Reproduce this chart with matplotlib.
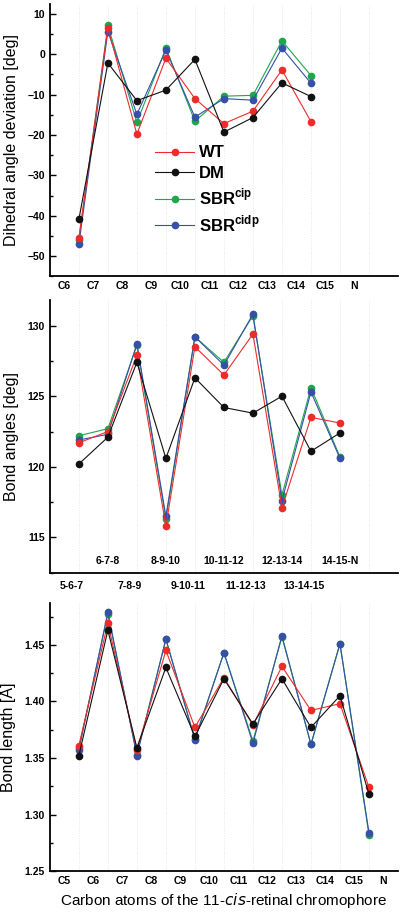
import matplotlib
matplotlib.use('Agg')
import matplotlib.pyplot as plt
from matplotlib.ticker import MultipleLocator
from matplotlib.transforms import blended_transform_factory

plt.rcParams['font.family'] = ['Liberation Sans', 'DejaVu Sans']
plt.rcParams['mathtext.fontset'] = 'custom'
plt.rcParams['mathtext.rm'] = 'Liberation Sans:bold'
plt.rcParams['mathtext.bf'] = 'Liberation Sans:bold'

series = ['WT', 'DM', 'SBR$^{\\mathrm{cip}}$', 'SBR$^{\\mathrm{cidp}}$']
colors = ['#ee2b2b', '#111111', '#1fa54c', '#3650a8']

# dihedral angle deviation
dih_labels = ['C6', 'C7', 'C8', 'C9', 'C10', 'C11', 'C12', 'C13', 'C14', 'C15', 'N']
dih_wt = [-45.5, 6.5, -19.8, -1.0, -11.0, -17.2, -14.1, -3.9, -16.7]
dih_dm = [-40.9, -2.2, -11.5, -8.9, -1.3, -19.3, -15.7, -7.1, -10.5]
dih_cip = [-45.9, 7.1, -16.9, 1.5, -16.6, -10.4, -10.2, 3.3, -5.3]
dih_cidp = [-47.1, 5.6, -14.9, 1.0, -15.6, -11.0, -11.4, 1.5, -7.2]

# bond angles
ang_labels = ['5-6-7', '6-7-8', '7-8-9', '8-9-10', '9-10-11', '10-11-12',
              '11-12-13', '12-13-14', '13-14-15', '14-15-N']
ang_wt = [121.7, 122.5, 127.9, 115.8, 128.5, 126.5, 129.4, 117.1, 123.5, 123.1]
ang_dm = [120.2, 122.1, 127.4, 120.6, 126.3, 124.2, 123.8, 125.0, 121.1, 122.4]
ang_cip = [122.2, 122.7, 128.6, 116.3, 129.2, 127.4, 130.7, 118.0, 125.6, 120.7]
ang_cidp = [121.9, 122.3, 128.7, 116.5, 129.2, 127.2, 130.8, 117.6, 125.3, 120.6]

# bond length
len_labels = ['C5', 'C6', 'C7', 'C8', 'C9', 'C10', 'C11', 'C12', 'C13', 'C14', 'C15', 'N']
len_wt = [1.361, 1.469, 1.357, 1.445, 1.377, 1.421, 1.379, 1.431, 1.392, 1.398, 1.324]
len_dm = [1.352, 1.463, 1.359, 1.430, 1.369, 1.420, 1.380, 1.420, 1.377, 1.405, 1.318]
len_cip = [1.359, 1.477, 1.353, 1.455, 1.367, 1.443, 1.365, 1.457, 1.362, 1.451, 1.282]
len_cidp = [1.357, 1.479, 1.352, 1.455, 1.366, 1.443, 1.363, 1.458, 1.362, 1.451, 1.284]

fig = plt.figure(figsize=(4.02, 9.15), dpi=100)
ax1 = fig.add_axes([0.124, 0.698, 0.866, 0.298])
ax2 = fig.add_axes([0.124, 0.374, 0.866, 0.298])
ax3 = fig.add_axes([0.124, 0.048, 0.866, 0.293])

order = [2, 3, 0, 1]


def draw(ax, data):
    n = len(data[0])
    xs = [i + 0.5 for i in range(n)]
    lines = {}
    for k in order:
        lines[k], = ax.plot(xs, data[k], '-o', color=colors[k], lw=0.8,
                            ms=4.5, label=series[k], zorder=3)
    return [lines[k] for k in range(4)]


def style(ax):
    for s in ['top', 'right']:
        ax.spines[s].set_visible(False)
    for s in ['left', 'bottom']:
        ax.spines[s].set_linewidth(1.3)
    ax.set_xlim(-0.5, 11.5)
    ax.tick_params(axis='y', which='major', direction='in', length=4,
                   width=1, labelsize=7.5)
    ax.tick_params(axis='y', which='minor', direction='in', length=2.5, width=1)
    ax.tick_params(axis='x', length=0, labelsize=7.5)
    for lab in ax.get_yticklabels() + ax.get_xticklabels():
        lab.set_fontweight('bold')
    for g in range(11):
        ax.axvline(g + 0.5, color='#dddddd', lw=0.6, ls=(0, (1, 2)), zorder=0)


handles = draw(ax1, [dih_wt, dih_dm, dih_cip, dih_cidp])
ax1.set_ylim(-55, 12.5)
ax1.yaxis.set_major_locator(MultipleLocator(10))
ax1.yaxis.set_minor_locator(MultipleLocator(5))
ax1.set_xticks(range(len(dih_labels)))
ax1.set_xticklabels(dih_labels)
style(ax1)
ax1.set_ylabel('Dihedral angle deviation [deg]', fontsize=11.5, labelpad=6)
leg = ax1.legend(handles=handles, loc='upper left', bbox_to_anchor=(0.26, 0.535),
                 frameon=False, prop={'weight': 'bold', 'size': 12},
                 handlelength=2.3, handletextpad=0.3, labelspacing=0.35)

draw(ax2, [ang_wt, ang_dm, ang_cip, ang_cidp])
ax2.set_ylim(112.5, 131.8)
ax2.yaxis.set_major_locator(MultipleLocator(5))
ax2.yaxis.set_minor_locator(MultipleLocator(2.5))
ax2.set_xticks([])
style(ax2)
ax2.set_ylabel('Bond angles [deg]', fontsize=11.5, labelpad=6)
tr = blended_transform_factory(ax2.transData, ax2.transAxes)
for i, lab in enumerate(ang_labels):
    if i % 2 == 0:
        ax2.text(i + 0.25, -0.03, lab, transform=tr, ha='center', va='top',
                 fontsize=7.5, fontweight='bold')
    else:
        ax2.text(i + 0.5, 0.025, lab, transform=tr, ha='center', va='bottom',
                 fontsize=7.5, fontweight='bold')

draw(ax3, [len_wt, len_dm, len_cip, len_cidp])
ax3.set_ylim(1.25, 1.487)
ax3.yaxis.set_major_locator(MultipleLocator(0.05))
ax3.yaxis.set_minor_locator(MultipleLocator(0.025))
ax3.yaxis.set_major_formatter(matplotlib.ticker.FormatStrFormatter('%.2f'))
ax3.set_xticks(range(len(len_labels)))
ax3.set_xticklabels(len_labels)
style(ax3)
ax3.set_ylabel('Bond length [Å]', fontsize=11.5, labelpad=6)
ax3.set_xlabel('Carbon atoms of the 11-$\\it{cis}$-retinal chromophore',
               fontsize=11, labelpad=4)

fig.savefig('out.png', dpi=100)
